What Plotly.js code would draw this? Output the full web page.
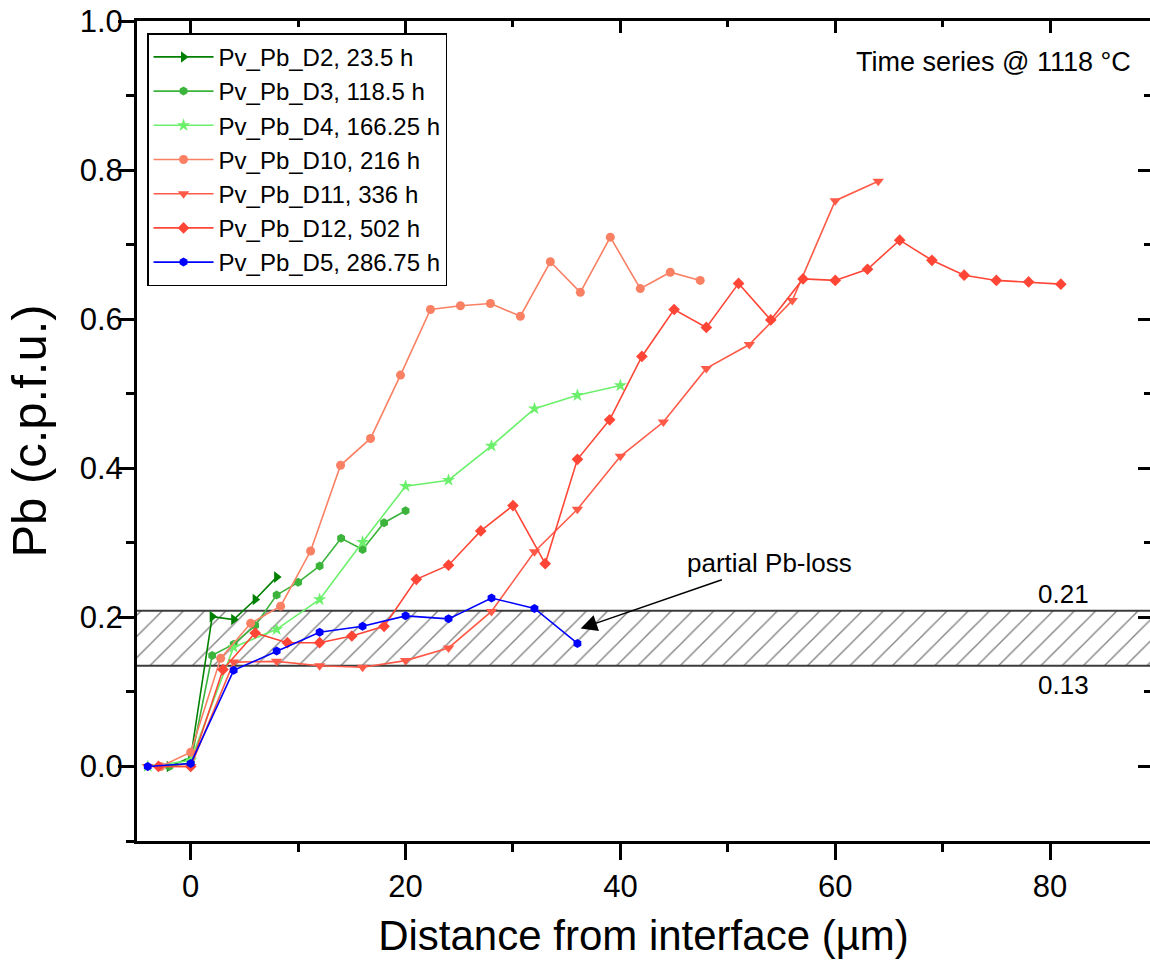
<!DOCTYPE html>
<html>
<head>
<meta charset="utf-8">
<script src="https://cdn.plot.ly/plotly-3.0.1.min.js"></script>
<style>html,body{margin:0;padding:0;background:#fff;}#chart{width:1150px;height:973px;}</style>
</head>
<body>
<div id="chart"></div>
<script>
// ---- data ----
const seriesNames = ["Pv_Pb_D2, 23.5 h","Pv_Pb_D3, 118.5 h","Pv_Pb_D4, 166.25 h","Pv_Pb_D10, 216 h","Pv_Pb_D11, 336 h","Pv_Pb_D12, 502 h","Pv_Pb_D5, 286.75 h"];

const d2_x = [-2, 0, 2, 4, 6, 8];
const d2_y = [0, 0.012, 0.201, 0.197, 0.224, 0.254];

const d3_x = [-2, 0, 2, 4, 6, 8, 10, 12, 14, 16, 18, 20];
const d3_y = [0, 0.005, 0.149, 0.164, 0.189, 0.230, 0.247, 0.269, 0.306, 0.291, 0.327, 0.343];

const d4_x = [-4, 0, 4, 8, 12, 16, 20, 24, 28, 32, 36, 40];
const d4_y = [0, 0.008, 0.160, 0.184, 0.224, 0.301, 0.376, 0.384, 0.430, 0.480, 0.498, 0.511];

const d10_x = [-2.79, 0, 2.79, 5.58, 8.37, 11.16, 13.95, 16.74, 19.53, 22.32, 25.11, 27.9, 30.69, 33.48, 36.27, 39.06, 41.85, 44.64, 47.43];
const d10_y = [0, 0.019, 0.145, 0.192, 0.215, 0.289, 0.404, 0.440, 0.525, 0.613, 0.618, 0.621, 0.604, 0.677, 0.636, 0.710, 0.641, 0.663, 0.652];

const d11_x = [-4, 0, 4, 8, 12, 16, 20, 24, 28, 32, 36, 40, 44, 48, 52, 56, 60, 64];
const d11_y = [0, 0, 0.140, 0.141, 0.135, 0.133, 0.142, 0.159, 0.208, 0.288, 0.345, 0.416, 0.462, 0.534, 0.566, 0.625, 0.759, 0.785];

const d12_x = [-3, 0, 3, 6, 9, 12, 15, 18, 21, 24, 27, 30, 33, 36, 39, 42, 45, 48, 51, 54, 57, 60, 63, 66, 69, 72, 75, 78, 81];
const d12_y = [0, 0, 0.130, 0.179, 0.166, 0.166, 0.175, 0.188, 0.251, 0.270, 0.316, 0.350, 0.272, 0.412, 0.465, 0.550, 0.613, 0.589, 0.648, 0.599, 0.654, 0.652, 0.667, 0.706, 0.679, 0.659, 0.652, 0.650, 0.647];

const d5_x = [-4, 0, 4, 8, 12, 16, 20, 24, 28, 32, 36];
const d5_y = [0, 0.004, 0.129, 0.155, 0.180, 0.188, 0.202, 0.198, 0.226, 0.212, 0.165];

const bandLimits = [0.135, 0.209];       // partial Pb-loss band (lower, upper)
const bandLabels = ["0.13", "0.21"];
const xRange = [-5, 89.3];
const yRange = [-0.1, 1.0];
const xTickVals = [0, 20, 40, 60, 80];
const yTickVals = [0.0, 0.2, 0.4, 0.6, 0.8, 1.0];

// ---- styles ----
const colors = ["#008000", "#3cb43c", "#6cf06c", "#fa8064", "#ff5a48", "#ff4636", "#0000ff"];
const symbols = ["triangle-right", "hexagon", "star", "circle", "triangle-down", "diamond", "hexagon"];
const sizes = [10, 9, 10, 9, 10, 9, 9];
const xs = [d2_x, d3_x, d4_x, d10_x, d11_x, d12_x, d5_x];
const ys = [d2_y, d3_y, d4_y, d10_y, d11_y, d12_y, d5_y];

const traces = [];
// hatched band
traces.push({
  x: [xRange[0], xRange[1], xRange[1], xRange[0], xRange[0]],
  y: [bandLimits[0], bandLimits[0], bandLimits[1], bandLimits[1], bandLimits[0]],
  mode: "lines", fill: "toself", line: {width: 0, color: "rgba(0,0,0,0)"},
  fillcolor: "rgba(255,255,255,0)",
  fillpattern: {shape: "/", fgcolor: "#808080", bgcolor: "rgba(255,255,255,0)", size: 15, solidity: 0.09},
  showlegend: false, hoverinfo: "skip"
});
bandLimits.forEach(v => traces.push({
  x: xRange, y: [v, v], mode: "lines", line: {color: "#3c3c3c", width: 2},
  showlegend: false, hoverinfo: "skip"
}));

for (let i = 0; i < seriesNames.length; i++) {
  traces.push({
    x: xs[i], y: ys[i], name: seriesNames[i], mode: "lines+markers",
    line: {color: colors[i], width: 1.6},
    marker: {color: colors[i], symbol: symbols[i], size: sizes[i], line: {width: 0}},
    cliponaxis: false
  });
}
// mirror axis carrier
traces.push({x: [null], y: [null], xaxis: "x2", yaxis: "y2", showlegend: false, hoverinfo: "skip", mode: "markers"});

const font = "'Liberation Sans', Arial, sans-serif";
const layout = {
  width: 1150, height: 973,
  margin: {l: 137, r: 0, t: 21, b: 132},
  paper_bgcolor: "#fff", plot_bgcolor: "#fff",
  font: {family: font, color: "#000"},
  showlegend: true,
  legend: {
    x: 0.0099, y: 0.985, xanchor: "left", yanchor: "top",
    bgcolor: "#fff", bordercolor: "#000", borderwidth: 1.5,
    font: {size: 24, family: font}, itemwidth: 60, tracegroupgap: 0
  },
  xaxis: {
    range: xRange, tickvals: xTickVals, ticks: "outside", ticklen: 16, tickwidth: 3, tickcolor: "#000",
    minor: {dtick: 10, tick0: 0, ticks: "outside", ticklen: 8, tickwidth: 3, tickcolor: "#000"},
    showline: true, linewidth: 3, linecolor: "#000", showgrid: false, zeroline: false,
    tickfont: {size: 31, family: font},
    title: {text: "Distance from interface (µm)", font: {size: 42, family: font}, standoff: 18}
  },
  yaxis: {
    range: yRange, tickvals: yTickVals, tickformat: ".1f", ticks: "outside", ticklen: 16, tickwidth: 3, tickcolor: "#000",
    minor: {dtick: 0.1, tick0: 0, ticks: "outside", ticklen: 8, tickwidth: 3, tickcolor: "#000"},
    showline: true, linewidth: 3, linecolor: "#000", showgrid: false, zeroline: false,
    tickfont: {size: 31, family: font}, ticklabelstandoff: -11,
    title: {text: "Pb (c.p.f.u.)", font: {size: 49, family: font}, standoff: 18}
  },
  xaxis2: {
    overlaying: "x", side: "top", anchor: "y", range: xRange, tickvals: xTickVals, ticks: "inside", ticklen: 12, tickwidth: 3, tickcolor: "#000",
    minor: {dtick: 10, tick0: 0, ticks: "inside", ticklen: 6, tickwidth: 3, tickcolor: "#000"},
    showline: true, linewidth: 3, linecolor: "#000", showgrid: false, zeroline: false, showticklabels: false
  },
  yaxis2: {
    overlaying: "y", side: "right", anchor: "x", range: yRange, tickvals: yTickVals, ticks: "inside", ticklen: 12, tickwidth: 3, tickcolor: "#000",
    minor: {dtick: 0.1, tick0: 0, ticks: "inside", ticklen: 6, tickwidth: 3, tickcolor: "#000"},
    showline: true, linewidth: 3, linecolor: "#000", showgrid: false, zeroline: false, showticklabels: false
  },
  annotations: [
    {x: 87.7, y: 0.945, xref: "x", yref: "y", text: "Time series @ 1118 °C", showarrow: false,
     xanchor: "right", yanchor: "middle", font: {size: 27, family: font}},
    {x: 81.25, y: 0.231, xref: "x", yref: "y", text: bandLabels[1], showarrow: false,
     xanchor: "center", yanchor: "middle", font: {size: 26, family: font}},
    {x: 81.25, y: 0.109, xref: "x", yref: "y", text: bandLabels[0], showarrow: false,
     xanchor: "center", yanchor: "middle", font: {size: 26, family: font}},
    {x: 36.3, y: 0.185, xref: "x", yref: "y", text: "partial Pb-loss",
     ax: 53.9, ay: 0.2725, axref: "x", ayref: "y", showarrow: true,
     arrowhead: 2, arrowsize: 2.2, arrowwidth: 1.5, arrowcolor: "#000",
     font: {size: 26, family: font}}
  ]
};

Plotly.newPlot("chart", traces, layout, {displayModeBar: false, staticPlot: true});
</script>
</body>
</html>
